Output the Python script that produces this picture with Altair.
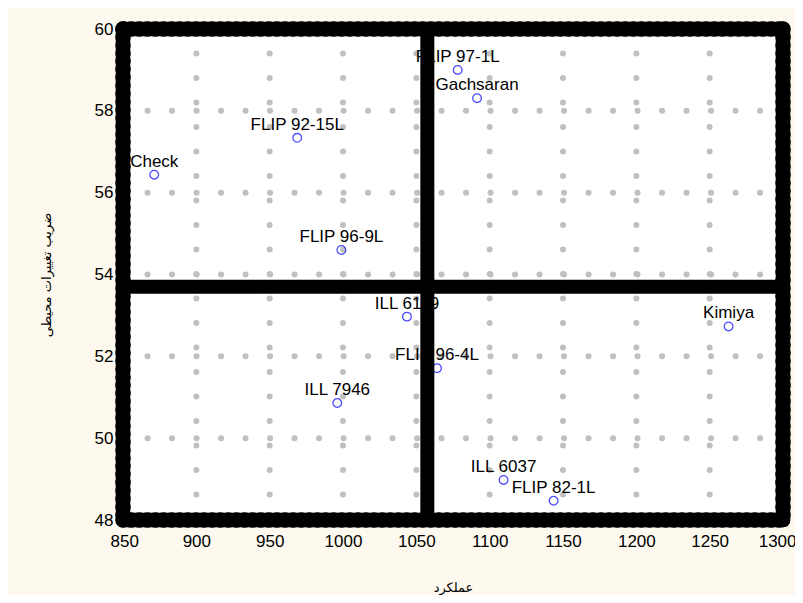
import altair as alt
import pandas as pd

# ---- data ----
genotypes = ["Check", "FLIP 92-15L", "FLIP 96-9L", "FLIP 97-1L", "Gachsaran",
             "ILL 6119", "FLIP 96-4L", "ILL 7946", "Kimiya", "ILL 6037", "FLIP 82-1L"]
yield_vals = [871.3, 968.8, 998.9, 1078.2, 1091.4, 1043.6, 1064.1, 996.1, 1262.9, 1109.5, 1143.6]
cv_vals = [56.44, 57.34, 54.60, 59.00, 58.31, 52.97, 51.71, 50.86, 52.73, 48.98, 48.47]

x_ticks = [850, 900, 950, 1000, 1050, 1100, 1150, 1200, 1250, 1300]
y_ticks = [48, 50, 52, 54, 56, 58, 60]
x_grid = [900, 950, 1000, 1050, 1100, 1150, 1200, 1250]
y_grid = [50, 52, 54, 56, 58]
x_lim = [850, 1300]
y_lim = [48, 60]
mean_yield = [1057.5]
mean_cv = [53.7]

x_title = "عملکرد"
y_title = "ضریب تغییرات محیطی"

pts = pd.DataFrame({"g": genotypes, "x": yield_vals, "y": cv_vals})
xg = pd.DataFrame({"x": x_grid})
yg = pd.DataFrame({"y": y_grid})
xb = pd.DataFrame({"x": x_lim})
yb = pd.DataFrame({"y": y_lim})
xm = pd.DataFrame({"x": mean_yield})
ym = pd.DataFrame({"y": mean_cv})

xscale = alt.Scale(domain=x_lim, nice=False, zero=False)
yscale = alt.Scale(domain=y_lim, nice=False, zero=False)

xaxis = alt.Axis(values=x_ticks, format="d", title=x_title, grid=False, domain=False, ticks=False,
                 labelFlush=1, labelFlushOffset=13, labelOverlap=False, labelBound=False,
                 labelPadding=13, labelFont="Liberation Sans", labelFontSize=17,
                 labelColor="black", titleFont="DejaVu Sans", titleFontSize=13,
                 titleFontWeight="normal", titleColor="black", titlePadding=32)
yaxis = alt.Axis(values=y_ticks, format="d", title=y_title, grid=False, domain=False, ticks=False,
                 labelFlush=False, labelOverlap=False, labelBound=False,
                 labelPadding=10, labelFont="Liberation Sans", labelFontSize=17,
                 labelColor="black", titleFont="DejaVu Sans", titleFontSize=13,
                 titleFontWeight="normal", titleColor="black", titlePadding=41)

grid_style = dict(color="#C0C0C0", strokeWidth=6, strokeCap="round", strokeDash=[0.1, 24.4])

gx = alt.Chart(xg).mark_rule(**grid_style).encode(
    x=alt.X("x:Q", scale=xscale, axis=xaxis),
    y=alt.Y(datum=60, scale=yscale, axis=yaxis), y2=alt.Y2(datum=48))
gy = alt.Chart(yg).mark_rule(**grid_style).encode(
    y=alt.Y("y:Q", scale=yscale),
    x=alt.X(datum=850, scale=xscale), x2=alt.X2(datum=1300))

points = alt.Chart(pts).mark_point(shape="circle", filled=False, color="#0000FF",
                                   size=75, strokeWidth=1.3).encode(
    x=alt.X("x:Q", scale=xscale), y=alt.Y("y:Q", scale=yscale))
labels = alt.Chart(pts).mark_text(font="Liberation Sans", fontSize=17, color="black",
                                  align="center", baseline="alphabetic", dy=-8).encode(
    x=alt.X("x:Q", scale=xscale), y=alt.Y("y:Q", scale=yscale), text="g:N")

def vrules(df, dotted, width):
    kw = dict(color="black", strokeWidth=width, strokeCap="round")
    if dotted:
        kw["strokeDash"] = [0.1, 8]
    return alt.Chart(df).mark_rule(**kw).encode(
        x=alt.X("x:Q", scale=xscale),
        y=alt.Y(datum=60, scale=yscale), y2=alt.Y2(datum=48))

def hrules(df, dotted, width):
    kw = dict(color="black", strokeWidth=width, strokeCap="round")
    if dotted:
        kw["strokeDash"] = [0.1, 8]
    return alt.Chart(df).mark_rule(**kw).encode(
        y=alt.Y("y:Q", scale=yscale),
        x=alt.X(datum=850, scale=xscale), x2=alt.X2(datum=1300))

chart = alt.layer(
    gx, gy, points, labels,
    vrules(xm, False, 14), hrules(ym, False, 14),
    vrules(xb, False, 14.5), hrules(yb, False, 14.5),
    vrules(xb, True, 15.5), hrules(yb, True, 15.5),
).properties(
    width=660, height=491,
    autosize=alt.AutoSizeParams(type="none"),
    padding={"left": 115, "top": 21, "right": 12, "bottom": 75},
    background="#FDF9EE",
).configure_view(fill="white", stroke=None)

chart.save("out.html", embed_options={"renderer": "svg", "actions": False})
